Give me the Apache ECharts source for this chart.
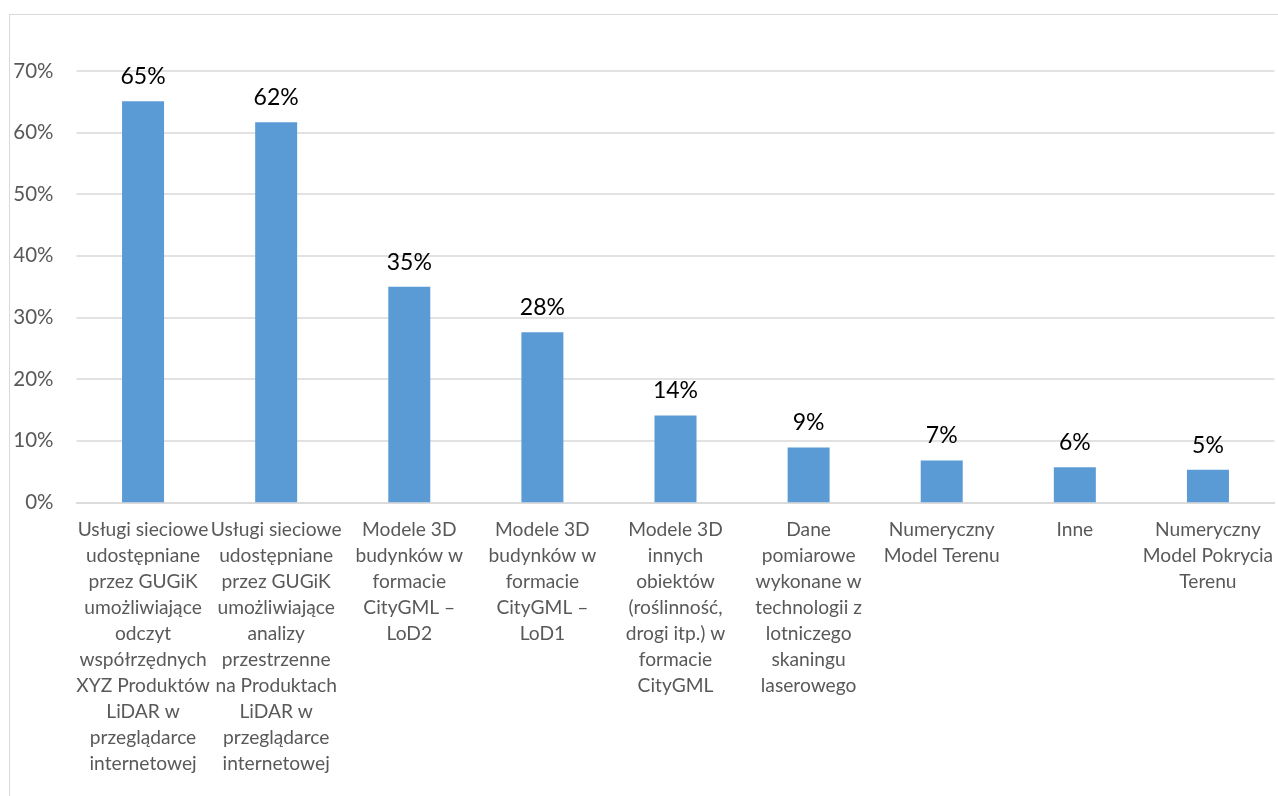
<!DOCTYPE html>
<html>
<head>
<meta charset="utf-8">
<script src="https://cdn.jsdelivr.net/npm/echarts@6/dist/echarts.min.js"></script>
<style>
  html, body { margin: 0; padding: 0; background: #fff; }
  #frame { position: absolute; left: 9px; top: 14px; width: 1400px; height: 900px;
           border-left: 1.5px solid #d9d9d9; border-top: 1.5px solid #d9d9d9; }
  #chart { position: absolute; left: 0; top: 0; width: 1278px; height: 796px; }
</style>
</head>
<body>
<div id="frame"></div>
<div id="chart"></div>
<script>
// Categories (line breaks as wrapped under each bar)
const categories = [
  'Usługi sieciowe\nudostępniane\nprzez GUGiK\numożliwiające\nodczyt\nwspółrzędnych\nXYZ Produktów\nLiDAR w\nprzeglądarce\ninternetowej',
  'Usługi sieciowe\nudostępniane\nprzez GUGiK\numożliwiające\nanalizy\nprzestrzenne\nna Produktach\nLiDAR w\nprzeglądarce\ninternetowej',
  'Modele 3D\nbudynków w\nformacie\nCityGML –\nLoD2',
  'Modele 3D\nbudynków w\nformacie\nCityGML –\nLoD1',
  'Modele 3D\ninnych\nobiektów\n(roślinność,\ndrogi itp.) w\nformacie\nCityGML',
  'Dane\npomiarowe\nwykonane w\ntechnologii z\nlotniczego\nskaningu\nlaserowego',
  'Numeryczny\nModel Terenu',
  'Inne',
  'Numeryczny\nModel Pokrycia\nTerenu'
];

// Share of responses, percent
const values = [65.1, 61.7, 35.0, 27.6, 14.1, 8.9, 6.8, 5.7, 5.3];

// Value axis ticks, percent
const yTicks = [0, 10, 20, 30, 40, 50, 60, 70];

const FONT = 'Lato, "Open Sans", sans-serif';

const chart = echarts.init(document.getElementById('chart'));
chart.setOption({
  animation: false,
  textStyle: { fontFamily: FONT },
  grid: { left: 76.5, right: 3.5, top: 71, bottom: 293.7, containLabel: false },
  xAxis: {
    type: 'category',
    data: categories,
    axisLine: { show: true, lineStyle: { color: '#d9d9d9', width: 1.5 } },
    axisTick: { show: false },
    axisLabel: {
      interval: 0,
      color: '#595959',
      fontSize: 19.2,
      fontFamily: FONT,
      lineHeight: 26.1,
      margin: 14,
      align: 'center'
    }
  },
  yAxis: {
    type: 'value',
    min: yTicks[0],
    max: yTicks[yTicks.length - 1],
    interval: yTicks[1] - yTicks[0],
    axisLine: { show: false },
    axisTick: { show: false },
    splitLine: { lineStyle: { color: '#d9d9d9', width: 1.5 } },
    axisLabel: {
      color: '#595959',
      fontSize: 20.5,
      fontFamily: FONT,
      margin: 23,
      formatter: v => v + '%'
    }
  },
  series: [{
    type: 'bar',
    data: values,
    barWidth: 42,
    itemStyle: { color: '#5B9BD5' },
    label: {
      show: true,
      position: 'top',
      distance: 13,
      color: '#000',
      fontSize: 23,
      fontFamily: FONT,
      formatter: p => Math.round(p.value) + '%'
    }
  }]
});
</script>
</body>
</html>
